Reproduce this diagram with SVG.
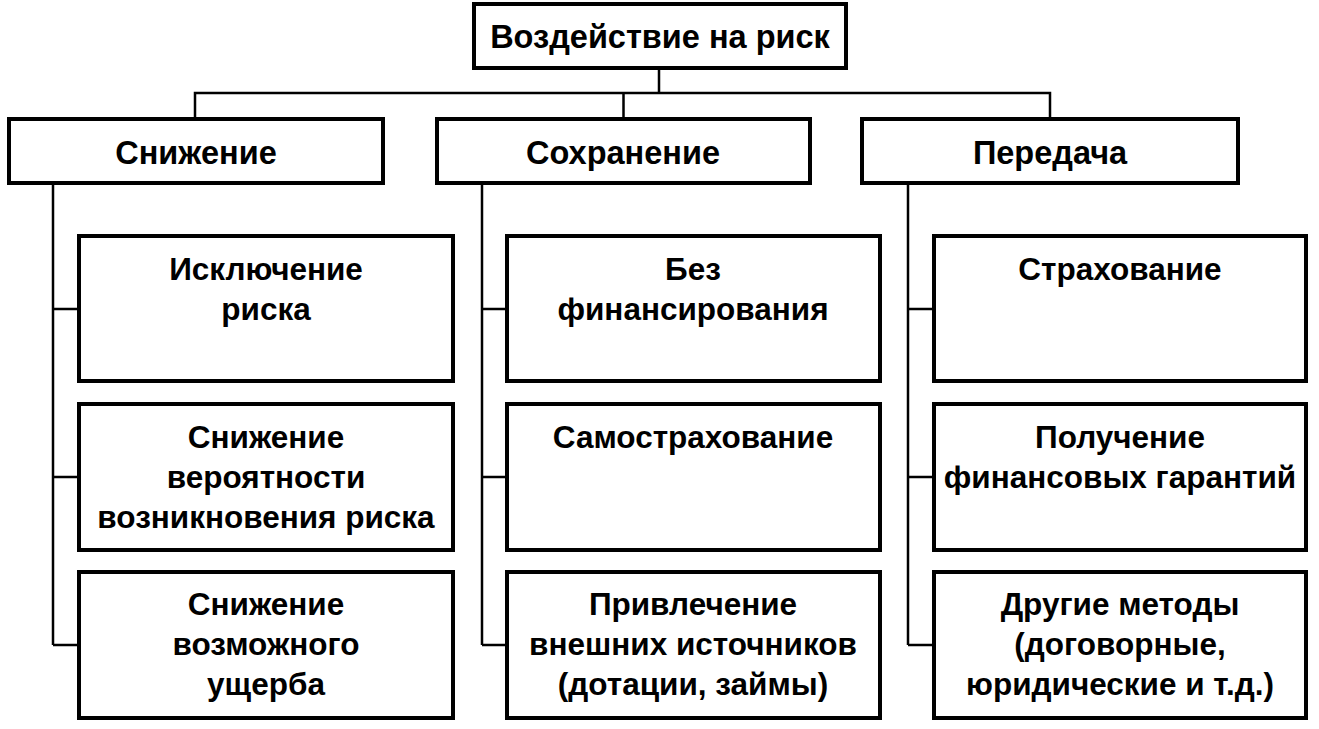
<svg xmlns="http://www.w3.org/2000/svg" width="1319" height="729" viewBox="0 0 1319 729">
<style>
.box{fill:#fff;stroke:#000;stroke-width:4}
.ln{fill:none;stroke:#000;stroke-width:2.5}
text{font-family:"Liberation Sans",Arial,sans-serif;font-weight:bold;font-size:31.5px;fill:#000;text-anchor:middle}
text.h{font-size:32.5px}
</style>
<rect width="1319" height="729" fill="#fff"/>
<g id="connectors">
<path class="ln" d="M659 68V93M195 119V93H1050V119M623.5 93V119"/>
<path class="ln" d="M53 183V645M53 309H79M53 477H79M53 645H79"/>
<path class="ln" d="M482 183V645M482 309H507M482 477H507M482 645H507"/>
<path class="ln" d="M908 183V645M908 309H934M908 477H934M908 645H934"/>
</g>
<g id="root"><rect class="box" x="474" y="4" width="372" height="64"/><text class="h" x="660" y="48">Воздействие на риск</text></g>
<g id="snizhenie"><rect class="box" x="9" y="119" width="374" height="64"/><text class="h" x="196" y="164">Снижение</text></g>
<g id="sokhranenie"><rect class="box" x="437" y="119" width="373" height="64"/><text class="h" x="623" y="164">Сохранение</text></g>
<g id="peredacha"><rect class="box" x="862" y="119" width="376" height="64"/><text class="h" x="1050" y="164">Передача</text></g>
<g id="c1r1"><rect class="box" x="79" y="236" width="374" height="145"/><text x="266" y="280">Исключение</text><text x="266" y="320">риска</text></g>
<g id="c1r2"><rect class="box" x="79" y="404" width="374" height="146"/><text x="266" y="448">Снижение</text><text x="266" y="488">вероятности</text><text x="266" y="528">возникновения риска</text></g>
<g id="c1r3"><rect class="box" x="79" y="572" width="374" height="146"/><text x="266" y="615">Снижение</text><text x="266" y="655">возможного</text><text x="266" y="695">ущерба</text></g>
<g id="c2r1"><rect class="box" x="507" y="236" width="373" height="145"/><text x="693" y="280">Без</text><text x="693" y="320">финансирования</text></g>
<g id="c2r2"><rect class="box" x="507" y="404" width="373" height="146"/><text x="693" y="448">Самострахование</text></g>
<g id="c2r3"><rect class="box" x="507" y="572" width="373" height="146"/><text x="693" y="615">Привлечение</text><text x="693" y="655">внешних источников</text><text x="693" y="695">(дотации, займы)</text></g>
<g id="c3r1"><rect class="box" x="934" y="236" width="372" height="145"/><text x="1120" y="280">Страхование</text></g>
<g id="c3r2"><rect class="box" x="934" y="404" width="372" height="146"/><text x="1120" y="448">Получение</text><text x="1120" y="488">финансовых гарантий</text></g>
<g id="c3r3"><rect class="box" x="934" y="572" width="372" height="146"/><text x="1120" y="615">Другие методы</text><text x="1120" y="655">(договорные,</text><text x="1120" y="695">юридические и т.д.)</text></g>
</svg>
